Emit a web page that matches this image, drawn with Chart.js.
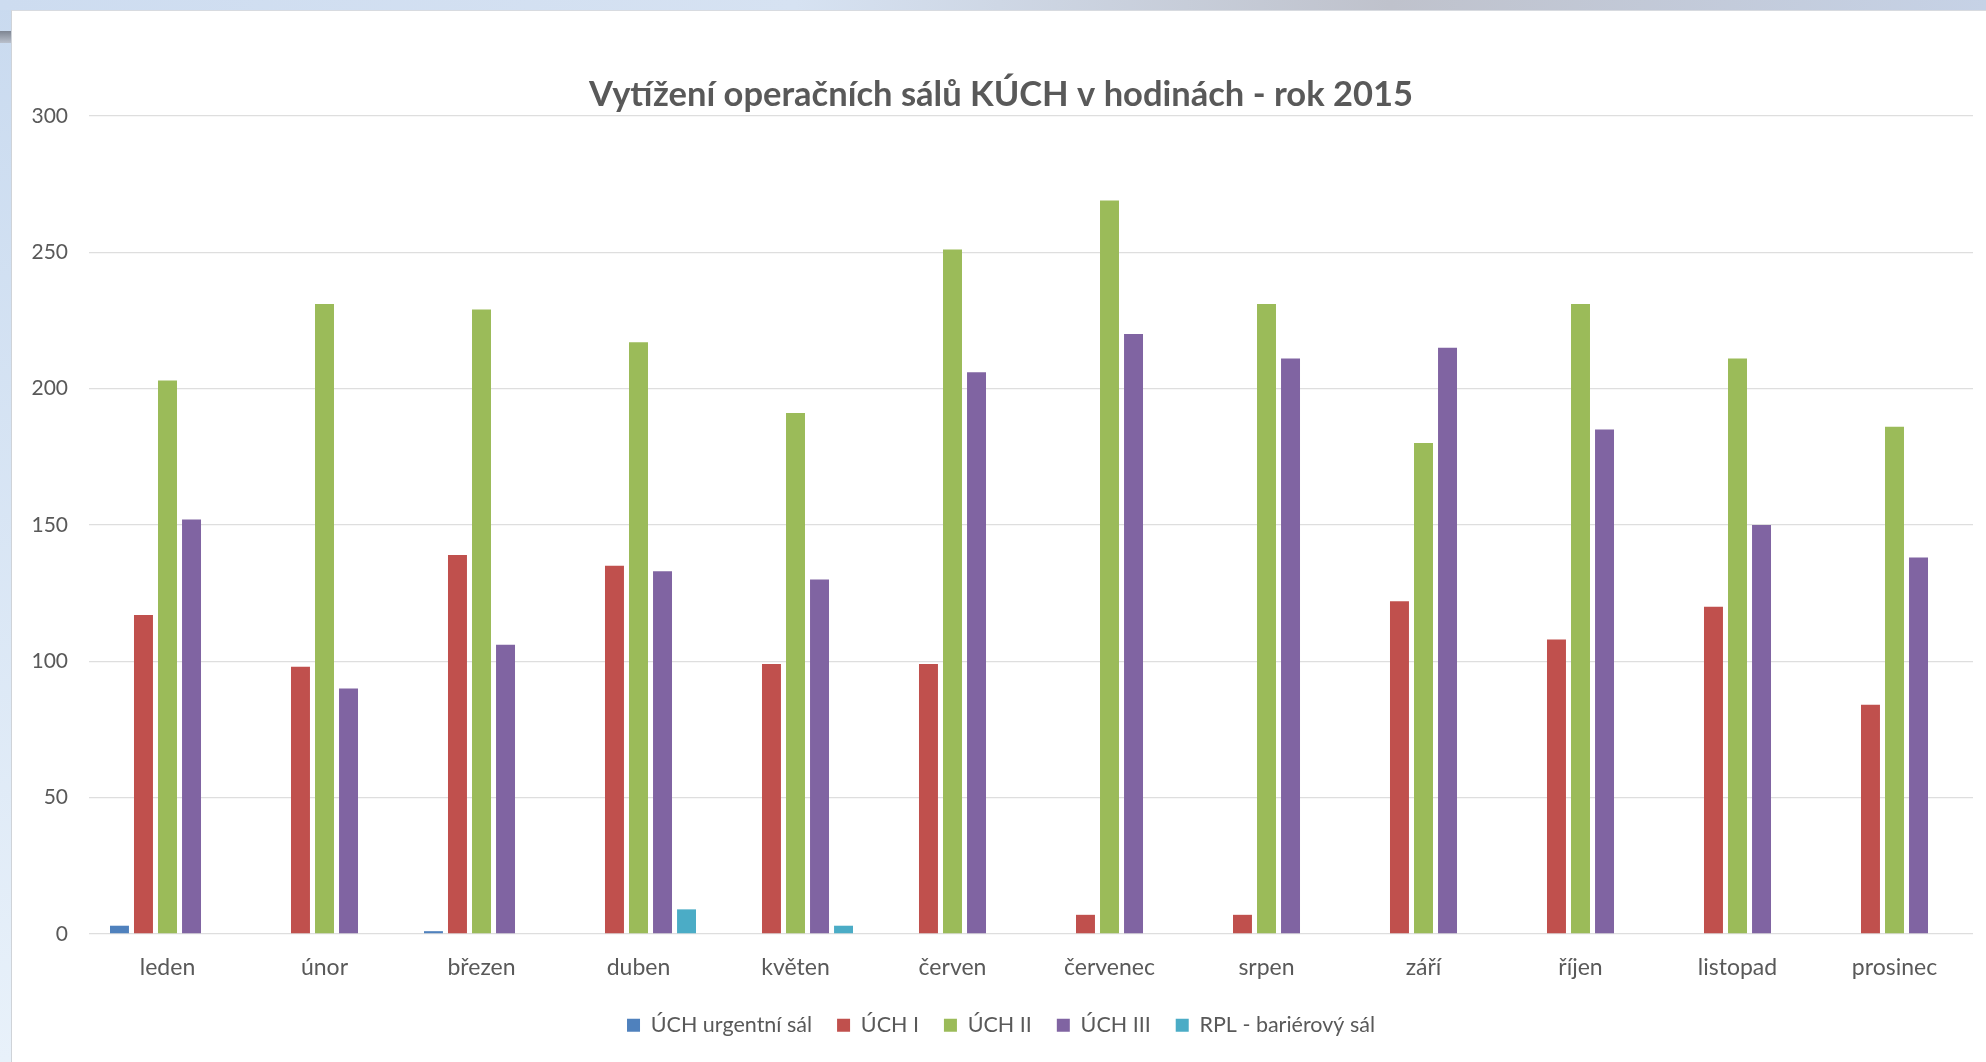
<!DOCTYPE html>
<html>
<head>
<meta charset="utf-8">
<script src="https://cdn.jsdelivr.net/npm/chart.js@4.4.0/dist/chart.umd.min.js"></script>
<style>
  body { margin: 0; width: 1986px; height: 1062px; overflow: hidden;
         background: linear-gradient(to bottom, #c9daef, #e8f1fa); position: relative; }
  #topstrip { position: absolute; left: 0; top: 0; width: 1986px; height: 10px;
              background: linear-gradient(to right, #cddcf0, #d6e2f2 40%, #bfc2cc 70%, #c6d2e6); }
  #leftbar { position: absolute; left: 0; top: 31px; width: 11px; height: 12px;
             background: linear-gradient(to bottom, #7e8592, #b9c0cc); }
  #panel { position: absolute; left: 11px; top: 10px; right: 0; bottom: 0; background: #fff;
           border-left: 1px solid #cfd3d8; border-top: 1px solid #d8dbe0; }
  #wrap { position: absolute; left: 0; top: 0; width: 1986px; height: 1062px; }
</style>
</head>
<body>
<div id="topstrip"></div>
<div id="leftbar"></div>
<div id="panel"></div>
<div id="wrap"><canvas id="barChart"></canvas></div>
<script>
// months
var months = ["leden","únor","březen","duben","květen","červen",
              "červenec","srpen","září","říjen","listopad","prosinec"];

// hours per room
var urgentni = [3, 0, 1, 0, 0, 0, 0, 0, 0, 0, 0, 0];
var uch1     = [117, 98, 139, 135, 99, 99, 7, 7, 122, 108, 120, 84];
var uch2     = [203, 231, 229, 217, 191, 251, 269, 231, 180, 231, 211, 186];
var uch3     = [152, 90, 106, 133, 130, 206, 220, 211, 215, 185, 150, 138];
var rpl      = [0, 0, 0, 9, 3, 0, 0, 0, 0, 0, 0, 0];

var seriesNames = ["ÚCH urgentní sál", "ÚCH I", "ÚCH II", "ÚCH III", "RPL - bariérový sál"];
var seriesColors = ["#4f81bd", "#c0504d", "#9bbb59", "#8064a2", "#4bacc6"];
var yTicks = [0, 50, 100, 150, 200, 250, 300];

var FONT = "Lato, 'Open Sans', sans-serif";
var grey = "#595959";
var leftPad = 29;  // keeps title/legend centred like the slide, y labels still fit

var allData = [urgentni, uch1, uch2, uch3, rpl];
var datasets = [];
for (var i = 0; i < allData.length; i++) {
    datasets.push({
        label: seriesNames[i],
        data: allData[i],
        backgroundColor: seriesColors[i],
        borderWidth: 0,
        categoryPercentage: 0.765,
        barPercentage: 0.79
    });
}

var config = {
    type: "bar",
    data: { labels: months, datasets: datasets },
    options: {
        responsive: false,
        animation: false,
        layout: { padding: { left: leftPad, right: 13, top: 0, bottom: 16 } },
        plugins: {
            title: {
                display: true,
                text: "Vytížení operačních sálů KÚCH v hodinách - rok 2015",
                color: grey,
                font: { family: FONT, size: 34.5, weight: "bold" },
                padding: { top: 74.5, bottom: 0 }
            },
            legend: {
                position: "bottom",
                labels: {
                    color: grey,
                    font: { family: FONT, size: 21.5 },
                    boxWidth: 13,
                    boxHeight: 13,
                    padding: 25
                }
            },
            tooltip: { enabled: false }
        },
        scales: {
            x: {
                grid: { display: false, drawTicks: false },
                border: { display: false },
                ticks: { color: grey, font: { family: FONT, size: 23 }, padding: 20 },
                afterFit: function (scale) { scale.height -= 12; }
            },
            y: {
                min: 0,
                max: 300,
                afterBuildTicks: function (scale) {
                    scale.ticks = yTicks.map(function (v) { return { value: v }; });
                },
                grid: { color: "#dedede", lineWidth: 1.3, drawTicks: false },
                border: { display: false },
                ticks: { color: grey, font: { family: FONT, size: 21 }, padding: 21 },
                afterFit: function (scale) { scale.width = 89 - leftPad; }
            }
        }
    }
};

var canvasElement = document.getElementById("barChart");
canvasElement.width = 1986;
canvasElement.height = 1062;
var barChart = new Chart(canvasElement, config);
</script>
</body>
</html>
